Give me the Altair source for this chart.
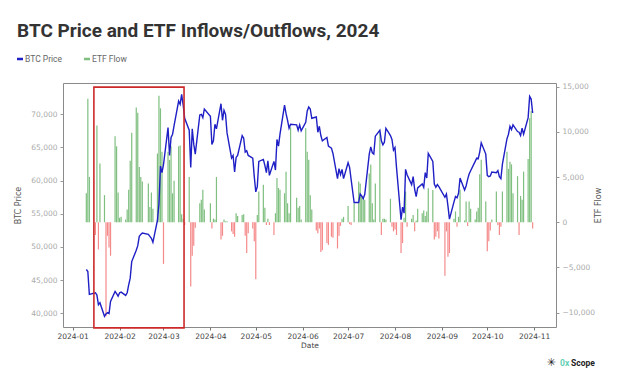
import altair as alt
import pandas as pd

# ---- data (trading days, BTC close price, ETF net flow in BTC) ----
jan_days = [10, 11, 12, 16, 17, 18, 19, 22, 23, 24, 25, 26, 29, 30, 31]
jan_price = [46600, 46300, 42850, 43100, 42750, 41300, 41600, 39550, 39900, 40100, 39950, 41800, 43300, 42950, 42580]
jan_flow = [3200, 13650, 5000, -1400, 10700, -3000, 6500, 3000, -10400, -1500, -2800, -3700, 9500, 8400, 3300]

feb_days = [1, 2, 5, 6, 7, 8, 9, 12, 13, 14, 15, 16, 20, 21, 22, 23, 26, 27, 28, 29]
feb_price = [43100, 43200, 42700, 43100, 44300, 45300, 47800, 49500, 50200, 51600, 51900, 52100, 51900, 51600, 51300, 50700, 54000, 56500, 62200, 61200]
feb_flow = [500, 600, 300, 1400, 3600, 6800, 9900, 12700, 12100, 6100, 5000, 4500, 4300, 1700, 3300, 1500, 7600, 14000, 12600, 7800]

mar_days = [1, 4, 5, 6, 7, 8, 11, 12, 13, 14, 15, 18, 19, 20, 21, 22, 25, 26, 27, 28]
mar_price = [62400, 68000, 63800, 66500, 67000, 68300, 72000, 71500, 73000, 71400, 69400, 67600, 62000, 67800, 65500, 64000, 69900, 70000, 69500, 70800]
mar_flow = [-4600, 7800, 6900, 8400, 3200, 4600, 8400, 8500, 900, 400, -300, 5000, -7100, -3700, -2600, -600, 2100, 2500, 3600, 1400]

apr_days = [1, 2, 3, 4, 5, 8, 9, 10, 11, 12, 15, 16, 17, 18, 19, 22, 23, 24, 25, 26, 29, 30]
apr_price = [69700, 65450, 66000, 68500, 67800, 71600, 69100, 70600, 70000, 67200, 63400, 63800, 61300, 63500, 63800, 66800, 66400, 64300, 64500, 63800, 63400, 60600]
apr_flow = [2100, -700, 400, 300, 5000, -1900, -1500, 300, 100, 100, -1000, -1300, -1600, 1000, 700, 800, 900, -1500, -3400, -1200, -700, -2100]

may_days = [1, 2, 3, 6, 7, 8, 9, 10, 13, 14, 15, 16, 17, 20, 21, 22, 23, 24, 28, 29, 30, 31]
may_price = [58300, 59100, 62900, 63200, 62300, 61200, 63000, 60800, 62900, 61600, 66200, 65200, 67000, 71400, 70100, 69100, 67900, 68500, 68400, 67600, 68400, 67500]
may_flow = [-6300, 800, 3400, 4150, 1600, -300, 400, -300, -1400, 1000, 4900, 3800, 3600, 3200, 5600, 2100, 1000, 10500, 2700, 1600, 1800, 300]

jun_days = [3, 4, 5, 6, 7, 10, 11, 12, 13, 14, 17, 18, 20, 21, 24, 25, 26, 27, 28]
jun_price = [68800, 70500, 71100, 70800, 69400, 69600, 67300, 68200, 66800, 66000, 66500, 65200, 64900, 64100, 60300, 61800, 60900, 61700, 60300]
jun_flow = [10400, 7800, 6900, 3000, 1400, -900, -1200, -700, -3300, -3100, -2300, -2500, -1600, -1700, -2900, -1500, -400, 400, 600]

jul_days = [1, 2, 3, 5, 8, 9, 10, 11, 12, 15, 16, 17, 18, 19, 22, 23, 24, 25, 26, 29, 30, 31]
jul_price = [62700, 62000, 60200, 56700, 56700, 58000, 57700, 57300, 57900, 64000, 65100, 64200, 64000, 66700, 67600, 66000, 65400, 65800, 67900, 66800, 66200, 64600]
jul_flow = [1800, -200, -300, 2100, 4500, 4300, 2900, 2700, 2500, 5400, 6400, 2100, 300, 4300, 9900, -1400, 400, 400, 300, 2600, -500, -1000]

aug_days = [1, 2, 5, 6, 7, 8, 9, 12, 13, 14, 15, 16, 19, 20, 21, 22, 23, 26, 27, 28, 29, 30]
aug_price = [65000, 62000, 54100, 56000, 55100, 61700, 60900, 59400, 60600, 58700, 57600, 58900, 59500, 59000, 61200, 60400, 64100, 62900, 59500, 59000, 59400, 59100]
aug_flow = [-800, -1400, -3400, -2300, 500, 3400, -500, 400, 800, -1000, 200, 1500, 1000, 1300, 700, 1200, 3750, 3570, -1900, -1600, -1000, -1800]

sep_days = [3, 4, 5, 6, 9, 10, 11, 12, 13, 16, 17, 18, 19, 20, 23, 24, 25, 26, 27, 30]
sep_price = [57500, 58000, 56200, 54200, 56800, 57600, 57400, 58100, 60400, 58600, 59200, 60200, 61000, 61500, 62900, 63400, 63300, 64300, 65700, 64000]
sep_flow = [-5900, -1000, -3800, -3400, 400, 1200, -500, 600, 3600, 200, 2300, -400, 2300, 1500, 300, 1200, 1600, 5300, 6900, 2300]

oct_days = [1, 2, 3, 4, 7, 8, 9, 10, 11, 14, 15, 16, 17, 18, 21, 22, 23, 24, 25, 28, 29, 30, 31]
oct_price = [60800, 60600, 60700, 61300, 61200, 61500, 60600, 60300, 62500, 66300, 67000, 68200, 67700, 68400, 67400, 67300, 66800, 67900, 67000, 69500, 72700, 72300, 70200]
oct_flow = [-3200, -2100, -900, 300, 3400, -300, -1400, -500, 3400, 7800, 5900, 6700, 6400, 3200, 5100, -1400, 2900, 2500, 5600, 7000, 11500, 12300, -700]

months = [
    (1, jan_days, jan_price, jan_flow), (2, feb_days, feb_price, feb_flow),
    (3, mar_days, mar_price, mar_flow), (4, apr_days, apr_price, apr_flow),
    (5, may_days, may_price, may_flow), (6, jun_days, jun_price, jun_flow),
    (7, jul_days, jul_price, jul_flow), (8, aug_days, aug_price, aug_flow),
    (9, sep_days, sep_price, sep_flow), (10, oct_days, oct_price, oct_flow),
]

rows = []
for m, days, prices, flows in months:
    assert len(days) == len(prices) == len(flows), m
    for d, p, f in zip(days, prices, flows):
        rows.append({"date": f"2024-{m:02d}-{d:02d}", "end": None, "price": p, "flow": f,
                     "sign": "in" if f >= 0 else "out"})
df = pd.DataFrame(rows)

# highlighted period (Jan 15 - Mar 14)
box_df = pd.DataFrame({"date": ["2024-01-15T00:00:00Z"], "end": ["2024-03-14T14:00:00Z"],
                       "low": [37800], "high": [74100]})

PRICE_DOMAIN = [37935, 74720]
FLOW_DOMAIN = [-11580, 15400]
X_DOMAIN = [alt.DateTime(year=2023, month=12, date=25, hours=14, utc=True),
            alt.DateTime(year=2024, month=11, date=15, hours=10, utc=True)]

LBL_FONT = "DejaVu Sans"
x_scale = alt.Scale(type="utc", domain=X_DOMAIN, padding=0)
x_axis = alt.Axis(title="Date", labelExpr="utcFormat(datum.value, '%Y-%m')",
                  tickCount={"interval": "month", "step": 1}, grid=False, domain=False,
                  labelFont=LBL_FONT, labelFontSize=7.5, labelColor="#444",
                  titleFont=LBL_FONT, titleFontSize=7.5, titleColor="#444",
                  titleFontWeight="normal", tickColor="#777", tickSize=3,
                  labelPadding=2, titlePadding=2, labelFlush=False)
X = alt.X("date:T", scale=x_scale, axis=x_axis, title="Date")

bars = alt.Chart(df).mark_bar(size=1.2).encode(
    x=X,
    y=alt.Y("flow:Q", scale=alt.Scale(domain=FLOW_DOMAIN, nice=False, zero=False),
            axis=alt.Axis(orient="right", title="ETF Flow", format=",d",
                          values=[-10000, -5000, 0, 5000, 10000, 15000], grid=False,
                          domain=False, labelFont=LBL_FONT, labelFontSize=7.5,
                          labelColor="#aaa", titleFont=LBL_FONT, titleFontSize=8,
                          titleColor="#555", titleFontWeight="normal", titleAngle=270,
                          tickColor="#999", tickSize=3, labelPadding=3, titlePadding=8)),
    y2=alt.datum(0),
    color=alt.Color("sign:N", scale=alt.Scale(domain=["in", "out"], range=["#7fbf7f", "#f58a8a"]),
                    legend=None),
)

line = alt.Chart(df).mark_line(color="#1f1fc6", strokeWidth=1.4).encode(
    x=X,
    y=alt.Y("price:Q", scale=alt.Scale(domain=PRICE_DOMAIN, nice=False, zero=False),
            axis=alt.Axis(orient="left", title="BTC Price", format=",d",
                          values=[40000, 45000, 50000, 55000, 60000, 65000, 70000], grid=False,
                          domain=False, labelFont=LBL_FONT, labelFontSize=7.5,
                          labelColor="#aaa", titleFont=LBL_FONT, titleFontSize=8,
                          titleColor="#555", titleFontWeight="normal",
                          tickColor="#999", tickSize=3, labelPadding=3, titlePadding=8)),
)

box = alt.Chart(box_df).mark_rect(filled=False, stroke="#cc2a2a", strokeWidth=1.6).encode(
    x=X,
    x2="end:T",
    y=alt.Y("low:Q", scale=alt.Scale(domain=PRICE_DOMAIN, nice=False, zero=False), axis=None),
    y2="high:Q",
)

one = pd.DataFrame({"k": [0]})
OX, OY = 63, 83  # plot origin in page pixels


def txt(s, px, py, size, color, weight="normal", font="Roboto", align="left"):
    return alt.Chart(one).mark_text(align=align, baseline="middle", fontSize=size, color=color,
                                    fontWeight=weight, font=font).encode(
        x=alt.value(px - OX), y=alt.value(py - OY), text=alt.value(s))


def dash(px0, px1, py, color):
    return alt.Chart(one).mark_rule(color=color, strokeWidth=2.5).encode(
        x=alt.value(px0 - OX), x2=alt.value(px1 - OX), y=alt.value(py - OY))


title = txt("BTC Price and ETF Inflows/Outflows, 2024", 17, 31, 19, "#333333", weight="bold")
leg1 = dash(17, 23, 59, "#1f1fc6")
leg1t = txt("BTC Price", 25, 59, 8.5, "#666666")
leg2 = dash(84, 90, 59, "#7fbf7f")
leg2t = txt("ETF Flow", 92, 59, 8.5, "#666666")
logo_icon = txt("✳", 551, 363, 11, "#222222", font="DejaVu Sans", align="center")
logo_0x = txt("0x", 560, 363, 8.5, "#5fd0b4", weight="bold")
logo_scope = txt("Scope", 571, 363, 8.5, "#222222", weight="bold")

chart = alt.layer(
    bars, line, box, title, leg1, leg1t, leg2, leg2t, logo_icon, logo_0x, logo_scope
).resolve_scale(y="independent").properties(
    width=493, height=244, autosize="none",
    padding={"left": 55, "top": 75, "right": 56, "bottom": 46},
    background="white",
).configure_view(stroke="#8a8a8a", strokeWidth=1)

chart.save("out.html", embed_options={"renderer": "svg", "actions": False})
